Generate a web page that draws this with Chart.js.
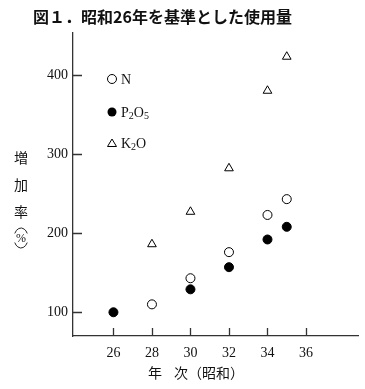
<!DOCTYPE html>
<html>
<head>
<meta charset="utf-8">
<script src="https://cdn.jsdelivr.net/npm/chart.js@4/dist/chart.umd.min.js"></script>
<style>
  html, body { margin: 0; padding: 0; background: #fff; }
  #wrap { width: 365px; height: 389px; }
</style>
</head>
<body>
<div id="wrap"><canvas id="c"></canvas></div>
<script>
// ---- Duomenys (nuskaityta nuo paveikslo) ----
const nYears = [28, 30, 32, 34, 35];
const nValues = [110, 143, 176, 223, 243];
const pYears = [26, 30, 32, 34, 35];
const pValues = [100, 129, 157, 192, 208];
const kYears = [28, 30, 32, 34, 35];
const kValues = [186, 227, 282, 380, 423];
const xTicks = [26, 28, 30, 32, 34, 36];
const yTicks = [100, 200, 300, 400];

const AXIS = "#333";
const SERIF = "'Liberation Serif', 'DejaVu Serif', serif";
const CJK = "'Noto Sans CJK JP', sans-serif";

function pts(xs, ys) {
  return xs.map((x, i) => ({ x: x, y: ys[i] }));
}

// ---- legendos tekstas su apatiniais indeksais ----
function drawSub(ctx, parts, x, y) {
  ctx.textBaseline = "alphabetic";
  ctx.textAlign = "left";
  for (const [txt, sub] of parts) {
    ctx.font = (sub ? "10px " : "14px ") + SERIF;
    ctx.fillText(txt, x, y + (sub ? 1.5 : 0));
    x += ctx.measureText(txt).width;
  }
}

const decor = {
  id: "decor",
  afterDraw(chart) {
    const ctx = chart.ctx;
    const a = chart.chartArea;
    const xs = chart.scales.x;
    const ys = chart.scales.y;
    ctx.save();

    // vidinės padalos
    ctx.strokeStyle = AXIS;
    ctx.lineWidth = 1.3;
    ctx.beginPath();
    xs.ticks.forEach(t => {
      const px = Math.round(xs.getPixelForValue(t.value)) + 0.5;
      ctx.moveTo(px, a.bottom);
      ctx.lineTo(px, a.bottom - 8);
    });
    ys.ticks.forEach(t => {
      const py = Math.round(ys.getPixelForValue(t.value)) + 0.5;
      ctx.moveTo(a.left, py);
      ctx.lineTo(a.left + 9, py);
    });
    ctx.stroke();

    // pavadinimas
    ctx.fillStyle = "#111";
    ctx.font = "bold 16px " + CJK;
    ctx.textBaseline = "middle";
    ctx.textAlign = "left";
    ctx.fillText("図１．昭和26年を基準とした使用量", 33, 17);

    // y ašies pavadinimas
    ctx.font = "14px " + CJK;
    ctx.textAlign = "center";
    ["増", "加", "率"].forEach((ch, i) => ctx.fillText(ch, 21, 158 + i * 27));
    ctx.font = "12px " + SERIF;
    ctx.fillText("%", 21, 239);
    ctx.lineWidth = 1;
    ctx.strokeStyle = "#222";
    ctx.beginPath();
    ctx.ellipse(21, 238, 7, 10, 0, Math.PI * 1.15, Math.PI * 1.85);
    ctx.stroke();
    ctx.beginPath();
    ctx.ellipse(21, 238, 7, 10, 0, Math.PI * 0.15, Math.PI * 0.85);
    ctx.stroke();

    // x ašies pavadinimas
    ctx.font = "14px " + CJK;
    ctx.textAlign = "left";
    ctx.fillText("年", 148, 373);
    ctx.fillText("次（昭和）", 174, 373);

    // legenda
    ctx.strokeStyle = "#000";
    ctx.lineWidth = 1;
    ctx.fillStyle = "#fff";
    ctx.beginPath();
    ctx.arc(112, 79, 4.5, 0, Math.PI * 2);
    ctx.fill();
    ctx.stroke();
    ctx.fillStyle = "#000";
    ctx.beginPath();
    ctx.arc(112, 112, 4.5, 0, Math.PI * 2);
    ctx.fill();
    ctx.beginPath();
    ctx.moveTo(112, 139);
    ctx.lineTo(116.5, 146.5);
    ctx.lineTo(107.5, 146.5);
    ctx.closePath();
    ctx.stroke();

    ctx.fillStyle = "#111";
    drawSub(ctx, [["N", false]], 121, 84);
    drawSub(ctx, [["P", false], ["2", true], ["O", false], ["5", true]], 121, 117);
    drawSub(ctx, [["K", false], ["2", true], ["O", false]], 121, 148);

    ctx.restore();
  }
};

new Chart(document.getElementById("c"), {
  type: "scatter",
  data: {
    datasets: [
      {
        label: "N",
        data: pts(nYears, nValues),
        pointStyle: "circle",
        pointRadius: 4.5,
        pointBackgroundColor: "#fff",
        pointBorderColor: "#000",
        pointBorderWidth: 1,
      },
      {
        label: "P2O5",
        data: pts(pYears, pValues),
        pointStyle: "circle",
        pointRadius: 4.5,
        pointBackgroundColor: "#000",
        pointBorderColor: "#000",
        pointBorderWidth: 1,
      },
      {
        label: "K2O",
        data: pts(kYears, kValues),
        pointStyle: "triangle",
        pointRadius: 5,
        pointBackgroundColor: "#fff",
        pointBorderColor: "#000",
        pointBorderWidth: 1,
      },
    ],
  },
  options: {
    responsive: true,
    maintainAspectRatio: false,
    animation: false,
    devicePixelRatio: 1,
    layout: { padding: { left: 0, top: 33, right: 7, bottom: 0 } },
    plugins: {
      legend: { display: false },
      tooltip: { enabled: false },
    },
    scales: {
      x: {
        type: "linear",
        min: 23.9,
        max: 38.7,
        afterBuildTicks: s => { s.ticks = xTicks.map(v => ({ value: v })); },
        afterFit: s => { s.height = 53; },
        grid: { display: false, drawTicks: false },
        border: { display: true, color: AXIS, width: 1.3 },
        ticks: { font: { family: SERIF, size: 14 }, color: "#111", padding: 9, maxRotation: 0 },
      },
      y: {
        min: 70,
        max: 453,
        afterBuildTicks: s => { s.ticks = yTicks.map(v => ({ value: v })); },
        afterFit: s => { s.width = 73; },
        grid: { display: false, drawTicks: false },
        border: { display: true, color: AXIS, width: 1.3 },
        ticks: { font: { family: SERIF, size: 14 }, color: "#111", padding: 5 },
      },
    },
  },
  plugins: [decor],
});
</script>
</body>
</html>
